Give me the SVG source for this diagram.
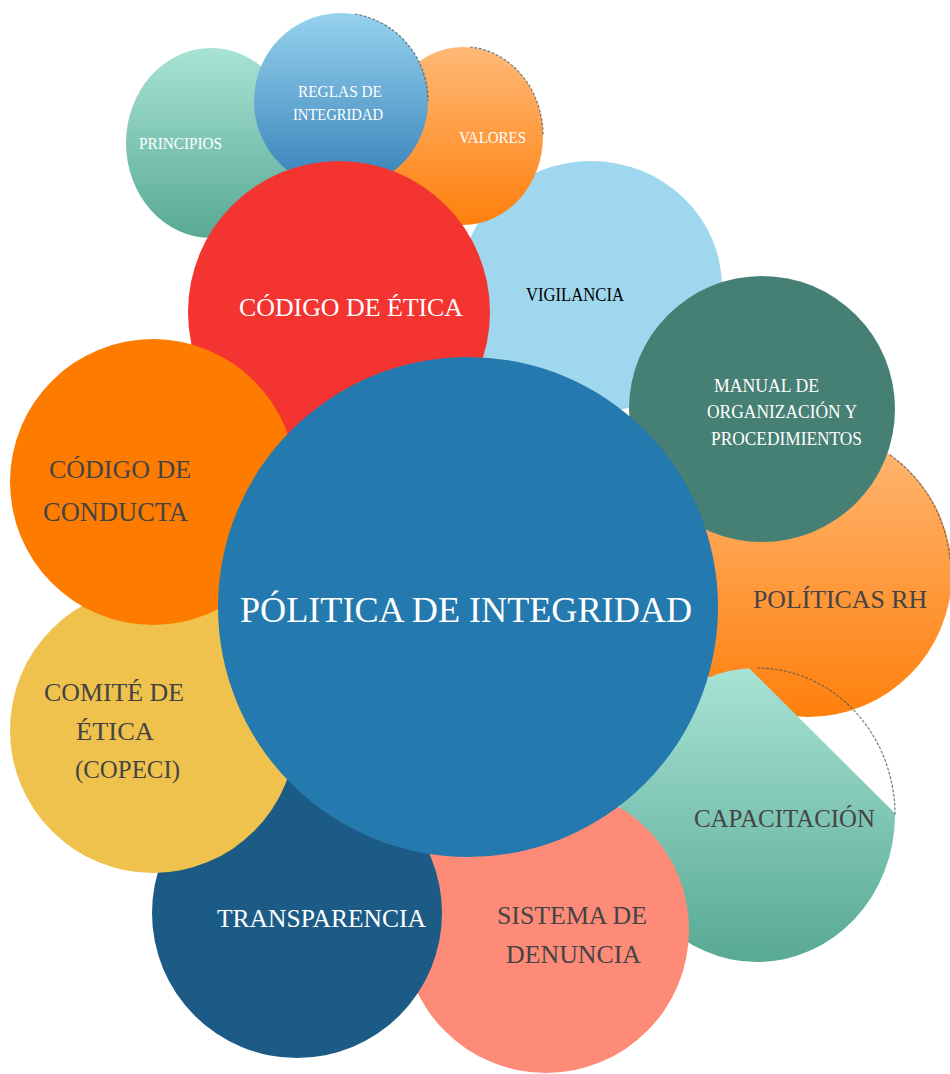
<svg xmlns="http://www.w3.org/2000/svg" width="950" height="1074" viewBox="0 0 950 1074">
<defs>
<linearGradient id="gTeal" x1="0" y1="0" x2="0" y2="1"><stop offset="0" stop-color="#a8e3d5"/><stop offset="1" stop-color="#58a994"/></linearGradient>
<linearGradient id="gBlue" x1="0" y1="0" x2="0" y2="1"><stop offset="0" stop-color="#96d2ee"/><stop offset="1" stop-color="#3580b8"/></linearGradient>
<linearGradient id="gOrange" x1="0" y1="0" x2="0" y2="1"><stop offset="0" stop-color="#ffb977"/><stop offset="1" stop-color="#ff7f0c"/></linearGradient>
<clipPath id="capClip"><polygon points="550,470 950,868 950,1074 550,1074"/></clipPath>
<style>
text{font-family:"Liberation Serif","Times New Roman",serif;}
.w{fill:#ffffff;}
.d{fill:#444444;}
.k{fill:#000000;}
.edge{fill:none;stroke:#4f5a5a;stroke-width:1.2;stroke-dasharray:3 1.5;opacity:0.8;}
</style>
</defs>
<rect width="950" height="1074" fill="#ffffff"/>

<g id="vigilancia">
<ellipse cx="591" cy="287" rx="131" ry="126" fill="#9fd7ee"/>
<text class="k" x="526" y="301" font-size="18" textLength="98" lengthAdjust="spacingAndGlyphs">VIGILANCIA</text>
</g>

<g id="principios">
<ellipse cx="211" cy="143" rx="85" ry="95" fill="url(#gTeal)"/>
<text class="w" x="139" y="149" font-size="16" textLength="83" lengthAdjust="spacingAndGlyphs">PRINCIPIOS</text>
</g>

<g id="valores">
<ellipse cx="463" cy="136" rx="80" ry="89" fill="url(#gOrange)"/>
<path class="edge" d="M470 47 A80 89 0 0 1 543 136"/>
<text class="w" x="459" y="143" font-size="16" textLength="67" lengthAdjust="spacingAndGlyphs">VALORES</text>
</g>

<g id="reglas">
<ellipse cx="341" cy="101" rx="87" ry="88" fill="url(#gBlue)"/>
<path class="edge" d="M355 14 A87 88 0 0 1 428 101"/>
<text class="w" x="298" y="97" font-size="16" textLength="84" lengthAdjust="spacingAndGlyphs">REGLAS DE</text>
<text class="w" x="293" y="120" font-size="16" textLength="90" lengthAdjust="spacingAndGlyphs">INTEGRIDAD</text>
</g>

<g id="codigo-etica">
<circle cx="339" cy="312" r="151" fill="#f43431"/>
<text class="w" x="239" y="316" font-size="25" textLength="224" lengthAdjust="spacingAndGlyphs">CÓDIGO DE ÉTICA</text>
</g>

<g id="politicas-rh">
<circle cx="808" cy="573" r="144" fill="url(#gOrange)"/>
<path class="edge" d="M890 455 A144 144 0 0 1 950 560"/>
<text class="d" x="753" y="608" font-size="26" textLength="174" lengthAdjust="spacingAndGlyphs">POLÍTICAS RH</text>
</g>

<g id="manual">
<circle cx="762" cy="409" r="133" fill="#467f74"/>
<text class="w" x="714" y="392" font-size="18" textLength="105" lengthAdjust="spacingAndGlyphs">MANUAL DE</text>
<text class="w" x="707" y="418" font-size="18" textLength="150" lengthAdjust="spacingAndGlyphs">ORGANIZACIÓN Y</text>
<text class="w" x="711" y="445" font-size="18" textLength="151" lengthAdjust="spacingAndGlyphs">PROCEDIMIENTOS</text>
</g>

<g id="capacitacion">
<ellipse cx="757" cy="815" rx="138" ry="147" fill="url(#gTeal)" clip-path="url(#capClip)"/>
<path class="edge" d="M757 668 A138 147 0 0 1 895 815"/>
<text class="d" x="694" y="827" font-size="25" textLength="181" lengthAdjust="spacingAndGlyphs">CAPACITACIÓN</text>
</g>

<g id="sistema-denuncia">
<circle cx="546" cy="930" r="143" fill="#fe8b78"/>
<text class="d" x="497" y="924" font-size="25" textLength="150" lengthAdjust="spacingAndGlyphs">SISTEMA DE</text>
<text class="d" x="506" y="963" font-size="25" textLength="135" lengthAdjust="spacingAndGlyphs">DENUNCIA</text>
</g>

<g id="transparencia">
<circle cx="297" cy="913" r="145" fill="#1b5b85"/>
<text class="w" x="217" y="927" font-size="25" textLength="209" lengthAdjust="spacingAndGlyphs">TRANSPARENCIA</text>
</g>

<g id="comite-etica">
<circle cx="153" cy="730" r="143" fill="#efc24d"/>
<text class="d" x="44" y="701" font-size="25" textLength="140" lengthAdjust="spacingAndGlyphs">COMITÉ DE</text>
<text class="d" x="76" y="740" font-size="26" textLength="78" lengthAdjust="spacingAndGlyphs">ÉTICA</text>
<text class="d" x="75" y="778" font-size="25" textLength="105" lengthAdjust="spacingAndGlyphs">(COPECI)</text>
</g>

<g id="codigo-conducta">
<circle cx="153" cy="482" r="143" fill="#fd7c00"/>
<text class="d" x="49" y="478" font-size="25" textLength="142" lengthAdjust="spacingAndGlyphs">CÓDIGO DE</text>
<text class="d" x="43" y="521" font-size="27" textLength="145" lengthAdjust="spacingAndGlyphs">CONDUCTA</text>
</g>

<g id="politica-integridad">
<circle cx="468" cy="607" r="250" fill="#2479ae"/>
<text class="w" x="240" y="622" font-size="36" textLength="452" lengthAdjust="spacingAndGlyphs">PÓLITICA DE INTEGRIDAD</text>
</g>
</svg>
